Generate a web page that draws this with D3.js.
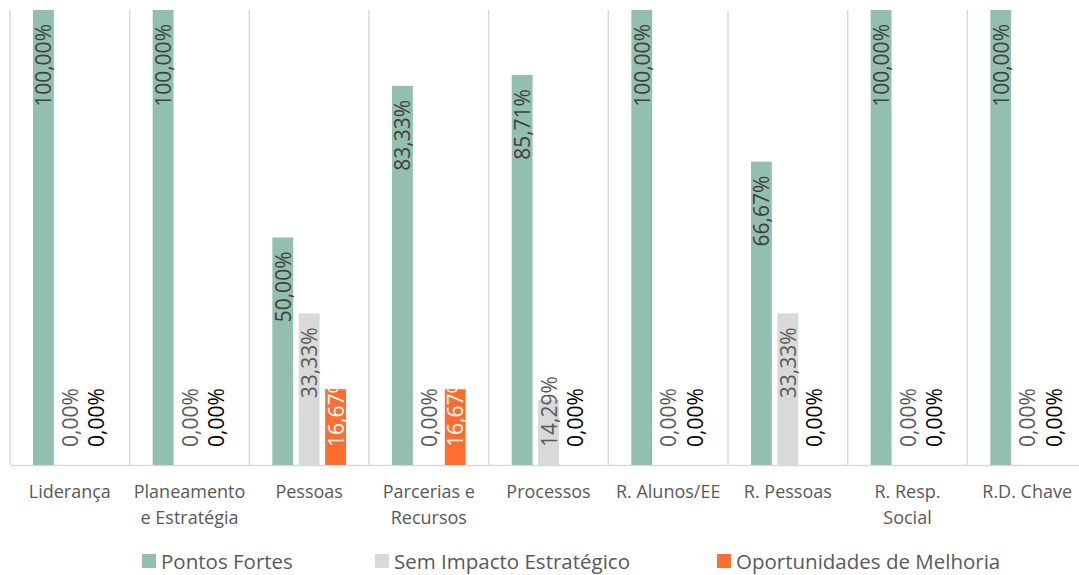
<!DOCTYPE html>
<html>
<head>
<meta charset="utf-8">
<script src="https://cdn.jsdelivr.net/npm/d3@7"></script>
<style>
  body { margin: 0; background: #fff; }
  svg { font-family: "Open Sans", sans-serif; }
</style>
</head>
<body>
<svg id="drawing_bar"></svg>
<script>
// categorias (com quebra de linha como no original)
const categories = ["Liderança", "Planeamento\ne Estratégia", "Pessoas", "Parcerias e\nRecursos",
  "Processos", "R. Alunos/EE", "R. Pessoas", "R. Resp.\nSocial", "R.D. Chave"];
const seriesNames = ["Pontos Fortes", "Sem Impacto Estratégico", "Oportunidades de Melhoria"];
const pontosFortes = [1, 1, 0.5, 0.8333, 0.8571, 1, 0.6667, 1, 1];
const semImpacto   = [0, 0, 0.3333, 0, 0.1429, 0, 0.3333, 0, 0];
const oportunidades = [0, 0, 0.1667, 0.1667, 0, 0, 0, 0, 0];
const colors = ["#93bfaf", "#d9d9d9", "#ff6d31"];

const width = 1079, height = 575;
const margin = { top: 10, left: 10, plotRight: 1087, bottom: 465 };

const svg = d3.select('#drawing_bar')
    .attr('width', width)
    .attr('height', height);

const series = [pontosFortes, semImpacto, oportunidades];
const data = categories.map((c, i) => ({
    cat: c,
    values: series.map((s, k) => ({ key: k, value: s[i] }))
}));

const xscale = d3.scaleBand()
    .domain(categories)
    .range([margin.left, margin.plotRight])
    .padding(0);

const xinner = d3.scaleBand()
    .domain([0, 1, 2])
    .range([23, xscale.bandwidth() - 23])
    .paddingInner(0.21);

const yscale = d3.scaleLinear()
    .domain([0, 1])
    .range([margin.bottom, margin.top]);

// linhas verticais entre categorias
svg.append('g').selectAll('line')
    .data(categories.concat(["_end"]))
    .join('line')
    .attr('x1', (d, i) => margin.left + i * xscale.step())
    .attr('x2', (d, i) => margin.left + i * xscale.step())
    .attr('y1', margin.top)
    .attr('y2', margin.bottom)
    .attr('stroke', '#d9d9d9')
    .attr('stroke-width', 1.5);

// eixo x
const xaxis = d3.axisBottom(xscale).tickSize(0).tickSizeOuter(0);
const xaxisGroup = svg.append('g')
    .attr('transform', `translate(0, ${margin.bottom})`)
    .call(xaxis)
    .attr('font-family', null)
    .attr('font-size', null);
xaxisGroup.select('.domain').attr('stroke', '#d9d9d9').attr('stroke-width', 1.5);
xaxisGroup.selectAll('.tick text').remove();
xaxisGroup.selectAll('.tick').each(function(d) {
    const t = d3.select(this).append('text')
        .attr('fill', '#595959')
        .attr('text-anchor', 'middle')
        .style('font-size', '18px');
    d.split("\n").forEach((l, j) => {
        t.append('tspan').attr('x', 0).attr('y', 33 + j * 26).text(l);
    });
});

// barras
const groups = svg.append('g').selectAll('g')
    .data(data)
    .join('g')
    .attr('transform', d => `translate(${xscale(d.cat)}, 0)`);

groups.selectAll('rect')
    .data(d => d.values)
    .join('rect')
    .attr('x', d => xinner(d.key))
    .attr('y', d => yscale(d.value))
    .attr('width', xinner.bandwidth())
    .attr('height', d => yscale(0) - yscale(d.value))
    .attr('fill', d => colors[d.key]);

// rótulos
const fmt = v => (v * 100).toFixed(2).replace('.', ',') + '%';
const labelColor = d => {
    if (d.key === 0) return '#404040';
    if (d.key === 1) return '#595959';
    return d.value > 0 ? '#ffffff' : '#000000';
};

groups.selectAll('text.lbl')
    .data(d => d.values)
    .join('text')
    .attr('class', 'lbl')
    .text(d => fmt(d.value))
    .style('font-size', '21px')
    .attr('fill', labelColor)
    .attr('text-anchor', 'start')
    .attr('dominant-baseline', 'central')
    .each(function(d) {
        const len = this.getComputedTextLength();
        const cx = xinner(d.key) + xinner.bandwidth() / 2;
        const bottom = Math.min(yscale(d.value) + 14 + len, yscale(0) - 18);
        d3.select(this).attr('transform', `translate(${cx}, ${bottom}) rotate(-90)`);
    });

// legenda
const legendX = [142, 375, 717];
const legend = svg.append('g').selectAll('g')
    .data(seriesNames)
    .join('g')
    .attr('transform', (d, i) => `translate(${legendX[i]}, 554)`);
legend.append('rect')
    .attr('width', 14).attr('height', 14)
    .attr('fill', (d, i) => colors[i]);
legend.append('text')
    .attr('x', 19).attr('y', 7)
    .attr('dominant-baseline', 'central')
    .style('font-size', '20.5px')
    .attr('fill', '#595959')
    .text(d => d);
</script>
</body>
</html>
